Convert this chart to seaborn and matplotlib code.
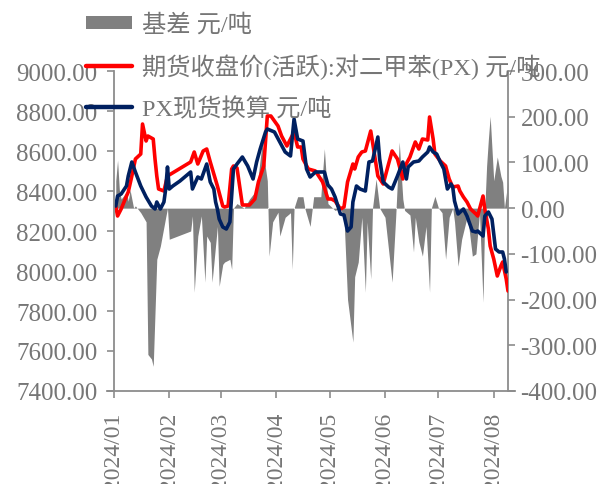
import matplotlib
matplotlib.use("Agg")
import matplotlib.pyplot as plt
import matplotlib.dates as mdates
from matplotlib.patches import Patch
from matplotlib.lines import Line2D
import seaborn as sns
import pandas as pd

# ===== data =====
# futures close (active contract), yuan/t
fut_dates = [
    "2024-01-02", "2024-01-03", "2024-01-05", "2024-01-08", "2024-01-09", "2024-01-11", "2024-01-13",
    "2024-01-16", "2024-01-17", "2024-01-19", "2024-01-20", "2024-01-23", "2024-01-24", "2024-01-25",
    "2024-01-26", "2024-01-29", "2024-01-31",
    "2024-02-13", "2024-02-15", "2024-02-17", "2024-02-20", "2024-02-22", "2024-02-24", "2024-02-28",
    "2024-03-02", "2024-03-03", "2024-03-05", "2024-03-07", "2024-03-08", "2024-03-10", "2024-03-13",
    "2024-03-17", "2024-03-20", "2024-03-22", "2024-03-25", "2024-03-27", "2024-03-29",
    "2024-04-02", "2024-04-04", "2024-04-07", "2024-04-11", "2024-04-13", "2024-04-15", "2024-04-16",
    "2024-04-19", "2024-04-23", "2024-04-27", "2024-04-30",
    "2024-05-02", "2024-05-04", "2024-05-07", "2024-05-09", "2024-05-11", "2024-05-14", "2024-05-15",
    "2024-05-17", "2024-05-19", "2024-05-21", "2024-05-24", "2024-05-25", "2024-05-28", "2024-05-31",
    "2024-06-03", "2024-06-05", "2024-06-08", "2024-06-11", "2024-06-12", "2024-06-15", "2024-06-18",
    "2024-06-20", "2024-06-22", "2024-06-25", "2024-06-26", "2024-06-28", "2024-06-29",
    "2024-07-02", "2024-07-05", "2024-07-07", "2024-07-09", "2024-07-12", "2024-07-13", "2024-07-15",
    "2024-07-17", "2024-07-19", "2024-07-22", "2024-07-23", "2024-07-26", "2024-07-27", "2024-07-29",
    "2024-07-30",
    "2024-08-01", "2024-08-03", "2024-08-05", "2024-08-06", "2024-08-08", "2024-08-09",
]
fut_price = [
    8325, 8275, 8310, 8375, 8395, 8475, 8560,
    8585, 8735, 8650, 8675, 8660, 8560, 8475,
    8410, 8400, 8475,
    8545, 8595, 8535, 8600, 8610, 8545, 8425,
    8325, 8320, 8325, 8510, 8525, 8515, 8330,
    8330, 8360, 8445, 8525, 8775, 8775,
    8725, 8675, 8625, 8695, 8620, 8620, 8560,
    8510, 8500, 8445, 8360,
    8360, 8350, 8310, 8320, 8445, 8535, 8510,
    8570, 8595, 8600, 8700, 8645, 8475, 8435,
    8535, 8600, 8560, 8460, 8520, 8570, 8645,
    8610, 8660, 8655, 8770, 8660, 8585,
    8550, 8525, 8460, 8420, 8425, 8400, 8370,
    8345, 8310, 8285, 8275, 8375, 8310, 8210,
    8125,
    8060, 7975, 8025, 8045, 7960, 7900,
]

# PX spot converted, yuan/t
spot_dates = [
    "2024-01-02", "2024-01-03", "2024-01-05", "2024-01-08", "2024-01-09", "2024-01-11", "2024-01-13",
    "2024-01-16", "2024-01-19", "2024-01-22", "2024-01-24", "2024-01-25", "2024-01-27", "2024-01-29",
    "2024-01-30", "2024-01-31",
    "2024-02-01", "2024-02-03", "2024-02-07", "2024-02-13", "2024-02-14", "2024-02-17", "2024-02-19",
    "2024-02-22", "2024-02-24", "2024-02-26", "2024-02-27", "2024-02-28", "2024-02-29",
    "2024-03-02", "2024-03-04", "2024-03-06", "2024-03-08", "2024-03-10", "2024-03-13", "2024-03-16",
    "2024-03-19", "2024-03-21", "2024-03-23", "2024-03-26", "2024-03-27", "2024-03-31",
    "2024-04-03", "2024-04-06", "2024-04-09", "2024-04-11", "2024-04-13", "2024-04-16", "2024-04-18",
    "2024-04-20", "2024-04-23", "2024-04-28", "2024-04-30",
    "2024-05-02", "2024-05-04", "2024-05-07", "2024-05-09", "2024-05-11", "2024-05-13", "2024-05-14",
    "2024-05-16", "2024-05-18", "2024-05-21", "2024-05-23", "2024-05-25", "2024-05-28", "2024-05-29",
    "2024-05-31",
    "2024-06-03", "2024-06-05", "2024-06-08", "2024-06-11", "2024-06-13", "2024-06-14", "2024-06-17",
    "2024-06-20", "2024-06-22", "2024-06-25", "2024-06-26", "2024-06-28", "2024-06-30",
    "2024-07-02", "2024-07-04", "2024-07-06", "2024-07-08", "2024-07-09", "2024-07-10", "2024-07-12",
    "2024-07-15", "2024-07-17", "2024-07-20", "2024-07-22", "2024-07-23", "2024-07-26", "2024-07-27",
    "2024-07-29", "2024-07-31",
    "2024-08-02", "2024-08-04", "2024-08-06", "2024-08-07", "2024-08-08",
]
spot_price = [
    8325, 8375, 8385, 8425, 8475, 8545, 8495,
    8425, 8370, 8325, 8310, 8345, 8310, 8345,
    8410, 8520,
    8410, 8425, 8450, 8495, 8410, 8470, 8460,
    8535, 8445, 8410, 8345, 8310, 8260,
    8220, 8210, 8245, 8510, 8535, 8570, 8525,
    8460, 8545, 8610, 8695, 8710, 8695,
    8645, 8595, 8575, 8760, 8660, 8650, 8510,
    8470, 8495, 8495, 8430,
    8410, 8370, 8285, 8280, 8200, 8220, 8345,
    8425, 8410, 8400, 8545, 8550, 8670, 8560,
    8445,
    8420, 8410, 8475, 8545, 8460, 8520, 8545,
    8550, 8570, 8595, 8620, 8595, 8585,
    8545, 8510, 8410, 8435, 8420, 8350, 8285,
    8310, 8275, 8200, 8195, 8200, 8175, 8275,
    8295, 8260,
    8110, 8095, 8095, 8060, 7995,
]

# basis, yuan/t (right axis)
basis_dates = [
    "2024-01-02", "2024-01-03", "2024-01-04", "2024-01-05", "2024-01-08", "2024-01-09", "2024-01-10",
    "2024-01-12", "2024-01-13", "2024-01-16", "2024-01-19", "2024-01-20", "2024-01-22", "2024-01-23",
    "2024-01-25", "2024-01-27", "2024-01-30", "2024-01-31",
    "2024-02-01", "2024-02-13", "2024-02-14", "2024-02-15", "2024-02-17", "2024-02-19", "2024-02-21",
    "2024-02-22", "2024-02-24", "2024-02-25", "2024-02-28", "2024-02-29",
    "2024-03-02", "2024-03-03", "2024-03-06", "2024-03-07", "2024-03-08", "2024-03-10", "2024-03-14",
    "2024-03-17", "2024-03-21", "2024-03-24", "2024-03-27", "2024-03-28", "2024-03-30",
    "2024-04-02", "2024-04-03", "2024-04-06", "2024-04-09", "2024-04-10", "2024-04-11", "2024-04-13",
    "2024-04-16", "2024-04-17", "2024-04-20", "2024-04-22", "2024-04-26", "2024-04-28", "2024-04-30",
    "2024-05-04", "2024-05-07", "2024-05-09", "2024-05-11", "2024-05-14", "2024-05-15", "2024-05-17",
    "2024-05-19", "2024-05-21", "2024-05-22", "2024-05-24", "2024-05-25", "2024-05-27", "2024-05-29",
    "2024-06-01", "2024-06-05", "2024-06-07", "2024-06-09", "2024-06-11", "2024-06-12", "2024-06-15",
    "2024-06-17", "2024-06-18", "2024-06-20", "2024-06-22", "2024-06-24", "2024-06-26", "2024-06-27",
    "2024-06-29",
    "2024-07-01", "2024-07-03", "2024-07-05", "2024-07-07", "2024-07-09", "2024-07-10", "2024-07-12",
    "2024-07-14", "2024-07-17", "2024-07-18", "2024-07-20", "2024-07-22", "2024-07-24", "2024-07-26",
    "2024-07-27", "2024-07-28", "2024-07-29", "2024-07-30",
    "2024-08-01", "2024-08-03", "2024-08-05", "2024-08-06", "2024-08-07", "2024-08-08", "2024-08-09",
]
basis_vals = [
    60, 105, 40, 20, 35, 15, 40,
    0, 5, -10, -30, -320, -330, -346,
    -112, -83, -20, 0,
    -68, -50, -17, -184, -61, -17, -162,
    -61, -75, -162, -40, -171,
    -123, -118, -112, -134, 0, 10, 0,
    20, 40, 140, 60, -105, -30,
    -9, -61, -20, -10, -134, 0, 25,
    25, 0, -40, 25, 25, 130, 10,
    -5, 0, -20, -200, -293, -150, -118,
    -20, -184, -30, -155, 0, 64, 0,
    -20, -162, -20, 145, 20, -5, -15,
    -96, -20, -74, -105, -40, -184, 0,
    26,
    0, -10, -112, -20, 0, -30, -127,
    -68, -20, -40, -105, -100, -10, -206,
    0, 92, 151, 201,
    60, 112, 70, 57, 0, 30, 60,
]

LABEL_BASIS = "基差 元/吨"
LABEL_FUT = "期货收盘价(活跃):对二甲苯(PX) 元/吨"
LABEL_SPOT = "PX现货换算 元/吨"

left_ticks = [7400, 7600, 7800, 8000, 8200, 8400, 8600, 8800, 9000]
right_ticks = [-400, -300, -200, -100, 0, 100, 200, 300]

RED = "#FF0000"
NAVY = "#002060"
FILL = "#808080"
TXT = "#767676"
AXC = "#8C8C8C"

# ===== plot =====
sns.set_theme(style="white")
plt.rcParams["font.family"] = ["Liberation Serif", "Noto Sans CJK SC"]

fut = pd.DataFrame({"date": pd.to_datetime(fut_dates), "price": fut_price})
spot = pd.DataFrame({"date": pd.to_datetime(spot_dates), "price": spot_price})
basis = pd.DataFrame({"date": pd.to_datetime(basis_dates), "basis": basis_vals})

fig = plt.figure(figsize=(6.05, 4.85), dpi=100)
ax = fig.add_axes([114 / 605, 93 / 485, 394 / 605, 320 / 485])
ax2 = ax.twinx()

# basis as grey area on the right axis, behind the lines
ax2.fill_between(basis["date"], basis["basis"], 0, color=FILL, linewidth=0)
ax.set_zorder(ax2.get_zorder() + 1)
ax.patch.set_visible(False)

sns.lineplot(data=fut, x="date", y="price", ax=ax, color=RED, linewidth=2.6,
             estimator=None, legend=False)
sns.lineplot(data=spot, x="date", y="price", ax=ax, color=NAVY, linewidth=2.6,
             estimator=None, legend=False)
for l in ax.lines:
    l.set_solid_joinstyle("round")

x0 = mdates.date2num(pd.Timestamp("2024-01-01"))
x1 = mdates.date2num(pd.Timestamp("2024-08-09"))
ax.set_xlim(x0, x1)
ax.set_ylim(7400, 9000)
ax2.set_ylim(-400, 300)
ax.set_yticks(left_ticks)
ax2.set_yticks(right_ticks)
ax.set_yticklabels([f"{v:.2f}" for v in left_ticks])
ax2.set_yticklabels([f"{v:.2f}" for v in right_ticks])
ax.xaxis.set_major_locator(mdates.MonthLocator())
ax.xaxis.set_major_formatter(mdates.DateFormatter("%Y/%m"))
ax.set_xlabel("")
ax.set_ylabel("")

for s in ["top", "right"]:
    ax.spines[s].set_visible(False)
for s in ["top", "left", "bottom"]:
    ax2.spines[s].set_visible(False)
for sp in [ax.spines["left"], ax.spines["bottom"], ax2.spines["right"]]:
    sp.set_color(AXC)
    sp.set_linewidth(1.3)
ax.spines["bottom"].set_bounds(x0 - 4, x1 + 4)

ax.tick_params(axis="x", direction="out", length=5, width=1.2, color=AXC,
               labelsize=17, labelcolor=TXT, pad=10, labelrotation=90, bottom=True)
ax.tick_params(axis="y", direction="out", length=5, width=1.2, color=AXC,
               labelsize=18, labelcolor=TXT, pad=7, left=True)
ax2.tick_params(axis="y", direction="out", length=5, width=1.2, color=AXC,
                labelsize=18, labelcolor=TXT, pad=4, right=True)

handles = [
    Patch(facecolor=FILL, edgecolor="none", label=LABEL_BASIS),
    Line2D([], [], color=RED, linewidth=3.2, label=LABEL_FUT),
    Line2D([], [], color=NAVY, linewidth=3.2, label=LABEL_SPOT),
]
fig.legend(handles=handles, loc="upper left", bbox_to_anchor=(86 / 605, 1 - 14 / 485),
           frameon=False, fontsize=17.5, labelcolor=TXT, handlelength=1.9,
           handletextpad=0.4, labelspacing=0.72, borderpad=0, borderaxespad=0,
           handleheight=0.45)

fig.savefig("out.png", dpi=100)
